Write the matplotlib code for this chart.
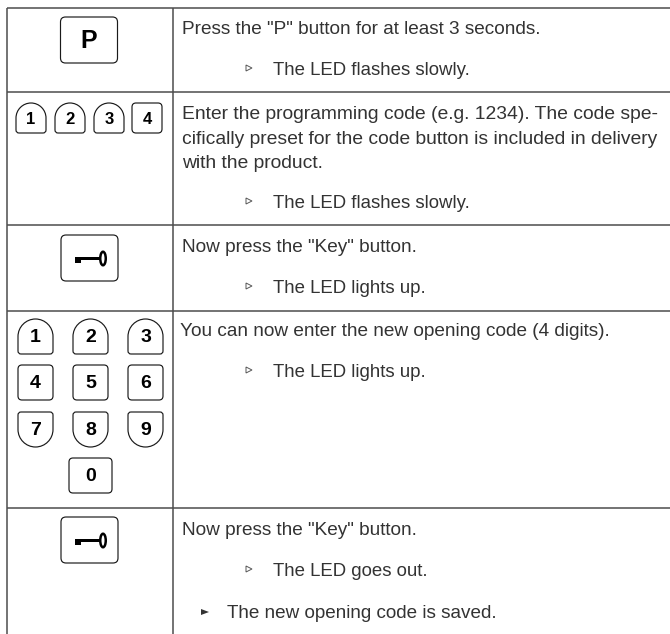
import matplotlib
matplotlib.use("Agg")
import matplotlib.pyplot as plt
from matplotlib.patches import FancyBboxPatch, PathPatch, Polygon, Rectangle, Ellipse
from matplotlib.path import Path

# ==========================================================
# TABLE DATA
# ==========================================================

press_p = 'Press the "P" button for at least 3 seconds.'
enter_code = [
    "Enter the programming code (e.g. 1234). The code spe-",
    "cifically preset for the code button is included in delivery",
    "with the product.",
]
press_key = 'Now press the "Key" button.'
new_code = "You can now enter the new opening code (4 digits)."
saved = "The new opening code is saved."

led_results = [
    "The LED flashes slowly.",
    "The LED flashes slowly.",
    "The LED lights up.",
    "The LED lights up.",
    "The LED goes out.",
]

small_key_labels = ["1", "2", "3", "4"]
pad_key_labels = ["1", "2", "3", "4", "5", "6", "7", "8", "9"]
zero_label = "0"
p_label = "P"

# ==========================================================
# LAYOUT
# ==========================================================

row_lines = [8, 92, 225, 311, 508]
column_lines = [7, 173]
right_edge = 670

result_y = [70.5, 203.5, 288.5, 372.5, 571.5]
arrow_y = [68, 201, 286, 370, 569]

small_key_x = [16, 55, 94, 132]
small_key_shapes = ["top", "top", "top", "square"]
pad_x = [18, 73, 128]
pad_y = [319, 365, 412]
pad_shapes = ["top", "square", "bottom"]

INK = "#1a1a1a"
TEXT = "#333333"
LINE = "#4d4d4d"
FONT = "Liberation Sans"

# ==========================================================
# HELPERS
# ==========================================================


def rounded_key(ax, left, top, w, h, r=4):
    ax.add_patch(FancyBboxPatch(
        (left + r, top + r), w - 2 * r, h - 2 * r,
        boxstyle=f"round,pad={r},rounding_size={r}",
        fc="white", ec=INK, lw=0.85))


def arched_key(ax, left, top, w, h, shape, r=3):
    right = left + w
    bottom = top + h
    k = 0.55 * w / 2
    mid = left + w / 2
    if shape == "top":
        verts = [(left, top + w / 2),
                 (left, top + w / 2 - k), (mid - k, top), (mid, top),
                 (mid + k, top), (right, top + w / 2 - k), (right, top + w / 2),
                 (right, bottom - r),
                 (right, bottom), (right - r, bottom),
                 (left + r, bottom),
                 (left, bottom), (left, bottom - r),
                 (left, top + w / 2)]
        codes = [Path.MOVETO, Path.CURVE4, Path.CURVE4, Path.CURVE4,
                 Path.CURVE4, Path.CURVE4, Path.CURVE4, Path.LINETO,
                 Path.CURVE3, Path.CURVE3, Path.LINETO, Path.CURVE3, Path.CURVE3,
                 Path.CLOSEPOLY]
    else:
        verts = [(left + r, top),
                 (right - r, top),
                 (right, top), (right, top + r),
                 (right, bottom - w / 2),
                 (right, bottom - w / 2 + k), (mid + k, bottom), (mid, bottom),
                 (mid - k, bottom), (left, bottom - w / 2 + k), (left, bottom - w / 2),
                 (left, top + r),
                 (left, top), (left + r, top),
                 (left + r, top)]
        codes = [Path.MOVETO, Path.LINETO, Path.CURVE3, Path.CURVE3,
                 Path.LINETO, Path.CURVE4, Path.CURVE4, Path.CURVE4,
                 Path.CURVE4, Path.CURVE4, Path.CURVE4, Path.LINETO,
                 Path.CURVE3, Path.CURVE3, Path.CLOSEPOLY]
    ax.add_patch(PathPatch(Path(verts, codes), fc="white", ec=INK, lw=0.85))


def draw_key(ax, label, left, top, w, h, shape, size):
    if shape == "square":
        rounded_key(ax, left, top, w, h)
    else:
        arched_key(ax, left, top, w, h, shape)
    ax.text(left + w / 2, top + h / 2 + 1, label, fontsize=size, fontweight="bold",
            family=FONT, color="black", ha="center", va="center")


def key_icon(ax, cx, cy):
    ax.add_patch(Ellipse((cx + 13.5, cy), 5.5, 13.5, fc="white", ec="black", lw=1.8))
    ax.add_patch(Rectangle((cx - 14.5, cy - 1.2), 25, 2.4, fc="black", ec="none"))
    ax.add_patch(Rectangle((cx - 14.5, cy - 0.5), 5.5, 5, fc="black", ec="none"))


def body(ax, x, y, s, size=13.7):
    ax.text(x, y, s, fontsize=size, family=FONT, color=TEXT, va="center", ha="left")


# ==========================================================
# FIGURE
# ==========================================================

fig = plt.figure(figsize=(6.70, 6.34), dpi=100)
ax = fig.add_axes([0, 0, 1, 1])
ax.set_xlim(0, 670)
ax.set_ylim(634, 0)
ax.axis("off")

# grid lines, the table stays open at the right and at the bottom
for y in row_lines:
    ax.plot([column_lines[0], right_edge], [y, y], color=LINE, lw=1.1, solid_capstyle="butt")
for x in column_lines:
    ax.plot([x, x], [row_lines[0], 634], color=LINE, lw=1.1, solid_capstyle="butt")

# right column text
body(ax, 182, 29.5, press_p)
for y, s in zip([114.5, 139, 163], enter_code):
    body(ax, 182, y, s, size=13.85)
body(ax, 182, 247.5, press_key)
body(ax, 180, 332, new_code)
body(ax, 182, 530.5, press_key)
body(ax, 227, 614, saved, size=13.55)

for y, s in zip(result_y, led_results):
    body(ax, 273, y, s, size=13.4)

for y in arrow_y:
    ax.add_patch(Polygon([(246, y - 3), (252, y), (246, y + 3)], closed=True, fc="white", ec="#555555", lw=0.7))
ax.add_patch(Polygon([(201, 609), (209, 612), (201, 615)], closed=True, fc="#333333", ec="none"))

# left column keys
for label, x, shape in zip(small_key_labels, small_key_x, small_key_shapes):
    draw_key(ax, label, x, 103, 30, 30, shape, 12)

for i, label in enumerate(pad_key_labels):
    draw_key(ax, label, pad_x[i % 3], pad_y[i // 3], 35, 35, pad_shapes[i // 3], 14)
draw_key(ax, zero_label, 69, 458, 43, 35, "square", 14)

rounded_key(ax, 60.5, 17, 57, 46, r=5)
ax.text(89, 40.5, p_label, fontsize=18, fontweight="bold", family=FONT,
        color="black", ha="center", va="center")

for top in [235, 517]:
    rounded_key(ax, 61, top, 57, 46, r=5)
    key_icon(ax, 89.5, top + 23.5)

fig.savefig("out.png", dpi=100)
plt.close(fig)
